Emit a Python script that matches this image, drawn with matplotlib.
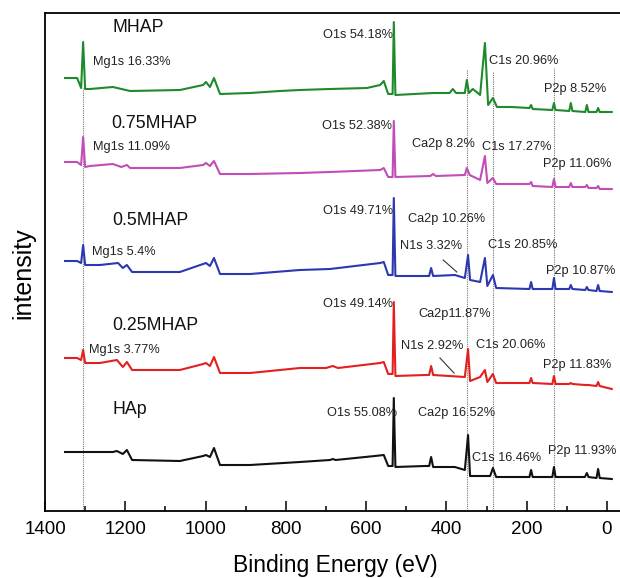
import matplotlib
matplotlib.use("Agg")
import matplotlib.pyplot as plt
from matplotlib.ticker import MultipleLocator

plt.rcParams['font.family'] = ['Liberation Sans', 'DejaVu Sans']

# ---- spectra (binding energy in eV, intensity in arbitrary units) ----
mhap_ev = [1350, 1320, 1310, 1305, 1300, 1288, 1231, 1188, 1064, 1006, 999, 989, 979, 964, 889, 815, 765,
           690, 598, 565, 556, 545, 534, 531, 527, 433, 392, 384, 376, 354, 349, 344, 334, 316, 304, 296,
           284, 274, 239, 193, 189, 185, 136, 132, 128, 94, 90, 86, 54, 50, 46, 26, 22, 18, -12]
mhap_i = [433, 433, 423, 469, 422, 422, 424, 420, 421, 426, 429, 424, 433, 417, 418, 420, 421,
          422, 423, 426, 430, 417, 417, 489, 416, 418, 418, 422, 418, 418, 431, 418, 422, 416, 468, 406,
          413, 404, 404, 403, 406, 402, 401, 408, 401, 400, 408, 400, 399, 406, 399, 399, 403, 399, 399]

m075_ev = [1350, 1320, 1310, 1305, 1300, 1288, 1231, 1210, 1196, 1188, 1064, 1006, 999, 989, 979, 964, 889,
           765, 690, 565, 556, 545, 534, 531, 527, 440, 433, 426, 354, 349, 342, 316, 304, 298, 284, 276,
           193, 189, 185, 136, 132, 128, 94, 90, 86, 54, 50, 46, 26, 22, 18, -12]
m075_i = [349, 349, 346, 374, 344, 345, 347, 344, 346, 343, 343, 346, 348, 345, 350, 337, 337,
          338, 339, 341, 343, 334, 334, 390, 334, 335, 337, 335, 336, 343, 336, 331, 355, 328, 333, 327,
          327, 329, 325, 324, 332, 324, 324, 328, 324, 324, 326, 323, 323, 325, 322, 322]

m05_ev = [1350, 1320, 1310, 1305, 1300, 1263, 1218, 1206, 1196, 1183, 1064, 1006, 999, 989, 979, 964, 889,
          765, 690, 565, 556, 545, 534, 531, 527, 443, 438, 433, 379, 354, 346, 341, 316, 304, 298, 284,
          276, 193, 189, 185, 136, 132, 128, 94, 90, 86, 54, 50, 46, 26, 22, 18, -12]
m05_i = [250, 250, 248, 266, 246, 246, 248, 243, 246, 239, 239, 247, 248, 245, 253, 237, 237,
         241, 242, 248, 249, 236, 236, 313, 235, 235, 243, 235, 236, 233, 256, 231, 229, 253, 225, 236,
         223, 222, 229, 222, 222, 233, 222, 222, 226, 222, 221, 224, 221, 220, 226, 220, 219]

m025_ev = [1350, 1320, 1310, 1305, 1300, 1263, 1221, 1206, 1196, 1183, 1064, 1006, 999, 989, 979, 964, 889,
           765, 700, 683, 670, 565, 556, 545, 534, 531, 527, 453, 443, 438, 433, 354, 346, 341, 316, 304,
           298, 284, 276, 193, 189, 185, 136, 132, 128, 94, 90, 86, 54, 50, 46, 26, 22, 18, -12]
m025_i = [153, 153, 151, 161, 148, 148, 151, 144, 149, 141, 141, 147, 148, 145, 154, 138, 138,
          143, 143, 145, 143, 148, 149, 137, 137, 209, 135, 136, 136, 145, 136, 134, 162, 130, 134, 141,
          129, 137, 128, 128, 133, 128, 127, 135, 127, 127, 128, 127, 126, 126, 126, 125, 129, 125, 122]

hap_ev = [1350, 1231, 1221, 1206, 1196, 1183, 1064, 1006, 999, 989, 979, 964, 889, 765, 690, 683, 676,
          578, 556, 545, 534, 531, 527, 453, 443, 438, 433, 379, 354, 346, 341, 291, 284, 276, 193, 189,
          185, 136, 132, 128, 55, 50, 46, 26, 22, 18, -12]
hap_i = [59, 59, 60, 57, 61, 51, 50, 55, 56, 54, 63, 46, 46, 49, 51, 52, 51,
         55, 56, 45, 45, 113, 44, 45, 45, 54, 44, 44, 41, 76, 35, 35, 43, 34, 34, 41,
         34, 34, 44, 34, 34, 38, 34, 33, 42, 33, 32]

series_ev = [mhap_ev, m075_ev, m05_ev, m025_ev, hap_ev]
series_i = [mhap_i, m075_i, m05_i, m025_i, hap_i]
series_colors = ['#1f8a2c', '#c24cb8', '#2b38b0', '#e41f1f', '#111111']

# sample names and positions (eV, intensity)
sample_names = ['MHAP', '0.75MHAP', '0.5MHAP', '0.25MHAP', 'HAp']
sample_x = [1233, 1236, 1233, 1233, 1233]
sample_y = [484, 388, 291, 185, 101]

# peak annotations
ann_text = ['Mg1s 16.33%', 'O1s 54.18%', 'C1s 20.96%', 'P2p 8.52%',
            'Mg1s 11.09%', 'O1s 52.38%', 'Ca2p 8.2%', 'C1s 17.27%', 'P2p 11.06%',
            'Mg1s 5.4%', 'O1s 49.71%', 'Ca2p 10.26%', 'N1s 3.32%', 'C1s 20.85%', 'P2p 10.87%',
            'Mg1s 3.77%', 'O1s 49.14%', 'Ca2p11.87%', 'N1s 2.92%', 'C1s 20.06%', 'P2p 11.83%',
            'O1s 55.08%', 'Ca2p 16.52%', 'C1s 16.46%', 'P2p 11.93%']
ann_x = [1280, 708, 294, 157,
         1280, 710, 486, 311, 159,
         1283, 708, 496, 516, 296, 152,
         1290, 708, 471, 513, 326, 159,
         698, 471, 336, 147]
ann_y = [449, 476, 450, 422,
         364, 385, 367, 364, 347,
         259, 300, 292, 265, 266, 240,
         161, 207, 197, 165, 166, 146,
         98, 98, 53, 60]

# N1s pointer segments: (x0, y0, x1, y1)
pointer_x0 = [408, 416]
pointer_y0 = [251, 153]
pointer_x1 = [374, 381]
pointer_y1 = [239, 138]

# reference (dotted) lines: energy and top of line
ref_ev = [1305, 349, 284, 132]
ref_top = [423, 442, 439, 443]

xticks_major = [0, 200, 400, 600, 800, 1000, 1200, 1400]

fig = plt.figure(figsize=(6.2, 5.78), dpi=100)
ax = fig.add_axes([45 / 620, 67 / 578, 580 / 620, 498 / 578])

for xv, top in zip(ref_ev, ref_top):
    ax.plot([xv, xv], [0, top], color='#777777', lw=0.8, ls=(0, (1, 1)), zorder=1)

for ev, inten, c in zip(series_ev, series_i, series_colors):
    ax.plot(ev, inten, color=c, lw=1.5, zorder=3)

for name, x, y in zip(sample_names, sample_x, sample_y):
    ax.text(x, y, name, fontsize=12.8, ha='left', va='center', color='#111111', zorder=4)

for t, x, y in zip(ann_text, ann_x, ann_y):
    ax.text(x, y, t, fontsize=9.2, ha='left', va='center', color='#222222', zorder=4)

for x0, y0, x1, y1 in zip(pointer_x0, pointer_y0, pointer_x1, pointer_y1):
    ax.plot([x0, x1], [y0, y1], color='#333333', lw=0.8, zorder=4)

ax.set_xlim(1400, -45)
ax.set_ylim(0, 498)
ax.set_xticks(xticks_major)
ax.xaxis.set_minor_locator(MultipleLocator(100))
ax.set_yticks([])
ax.tick_params(axis='x', which='major', direction='in', length=7, width=1.1, labelsize=13.5, pad=7)
ax.tick_params(axis='x', which='minor', direction='in', length=3.5, width=1.1)
for s in ['left', 'top', 'bottom']:
    ax.spines[s].set_linewidth(1.3)
ax.spines['right'].set_visible(False)

ax.set_xlabel('Binding Energy (eV)', fontsize=16.5, labelpad=12)
ax.set_ylabel('intensity', fontsize=18)
ax.yaxis.set_label_coords(-0.016, 0.478)

fig.savefig('out.png', dpi=100)
